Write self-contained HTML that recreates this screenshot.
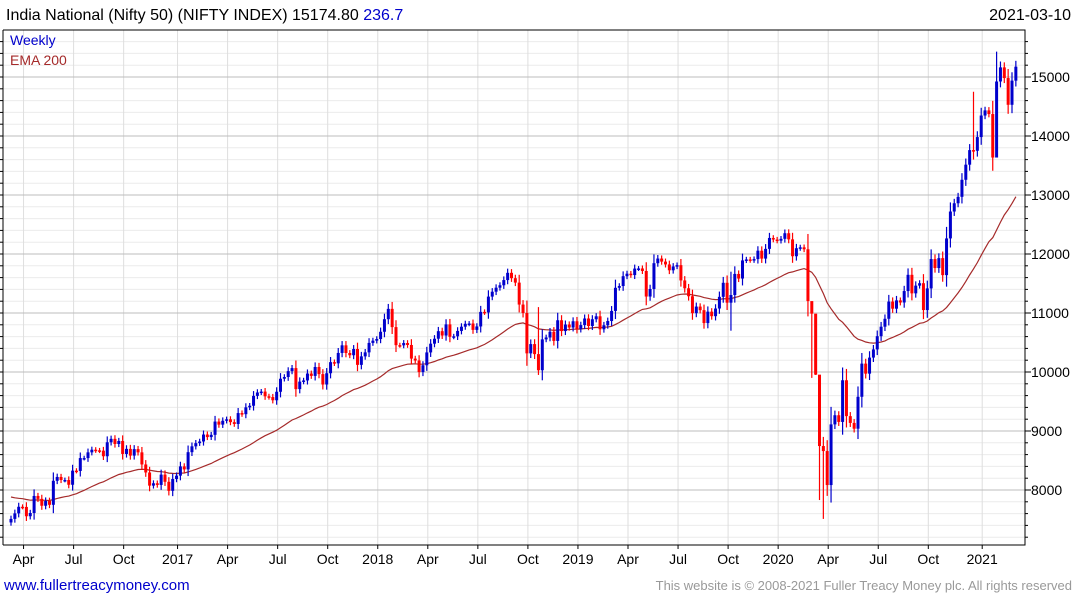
<!DOCTYPE html>
<html><head><meta charset="utf-8"><style>
body{margin:0;background:#fff;}
svg{display:block;font-family:"Liberation Sans",sans-serif;}
</style></head><body>
<svg id="chart" width="1075" height="600">
<rect x="0" y="0" width="1075" height="600" fill="#fff"/>
<g id="grid"></g><g id="ema"></g><g id="candles"></g><g id="axes"></g>
<text x="6" y="20" font-size="16" fill="#000">India National (Nifty 50) (NIFTY INDEX) 15174.80 <tspan fill="#0000cc">236.7</tspan></text>
<text x="1071" y="20" font-size="16" fill="#000" text-anchor="end">2021-03-10</text>
<text x="10" y="45" font-size="14" fill="#0000cc">Weekly</text>
<text x="10" y="65" font-size="14" fill="#a52a2a">EMA 200</text>
<text x="4" y="590" font-size="15" fill="#0000cc">www.fullertreacymoney.com</text>
<text x="1072" y="590" font-size="13" fill="#999" text-anchor="end">This website is © 2008-2021 Fuller Treacy Money plc. All rights reserved</text>
</svg>
<script>
const closes=[7510,7604,7716,7713,7555,7610,7899,7850,7733,7814,7749,8156,8221,8170,8170,8089,8328,8323,8541,8541,8638,8683,8672,8667,8572,8809,8867,8780,8831,8611,8697,8583,8693,8638,8433,8297,8074,8114,8086,8261,8139,7986,8186,
8243,8400,8349,8641,8740,8794,8822,8940,8897,8935,9160,9108,9174,9198,9150,9119,9304,9285,9401,9428,9595,9653,9668,9588,9575,9521,9665,9886,9915,10015,10066,9710,9837,9857,9974,9934,10085,9964,9788,9979,10167,10147,10323,10452,10322,10284,10390,10121,10265,10333,10493,10531,
10559,10682,10895,11070,10761,10455,10452,10491,10458,10227,10195,9999,10114,10332,10480,10564,10692,10618,10807,10597,10605,10696,10768,10817,10822,10714,10772,11019,11010,11278,11361,11429,11470,11558,11681,11590,11515,11143,11000,10316,10473,10303,10030,10553,10585,10682,10527,10877,10694,10805,10754,10860,
10727,10795,10907,10780,10894,10944,10724,10792,10864,11035,11427,11457,11624,11666,11643,11753,11755,11712,11279,11407,11844,11923,11871,11823,11724,11789,11811,11552,11419,11284,10997,11109,11048,10829,11023,10946,11076,11274,11512,11175,11305,11662,11584,11891,11908,11895,11914,12056,11922,12087,12272,12245,
12226,12257,12352,12248,11962,12098,12113,12080,11202,10989,9955,8745,8660,8084,9112,9267,9154,9860,9252,9137,9039,9580,10142,9972,10244,10383,10607,10768,10902,11194,11073,11214,11178,11372,11647,11333,11464,11505,11050,11417,11914,11762,11930,11642,12264,12720,12860,12969,13258,13514,13761,13749,13982,
14347,14434,14372,13635,14924,15163,14982,14529,14938,15175];
const wickExtremes={187:[11700,10700],209:[10200,9950],210:[9100,7830],211:[8900,7510],208:[11000,9900],137:[11100,9950],256:[15430,14900],250:[14750,13600]};
const yMajorTicks=[8000,9000,10000,11000,12000,13000,14000,15000];
const xTickLabels=["Apr","Jul","Oct","2017","Apr","Jul","Oct","2018","Apr","Jul","Oct","2019","Apr","Jul","Oct","2020","Apr","Jul","Oct","2021"];
const xTickWeeks=[3,16,29,43,56,69,82,95,108,121,134,147,160,173,186,199,212,225,238,252];
const emaSeed=7900, emaPeriod=40;

const NS="http://www.w3.org/2000/svg";
const L=3,R=1025,T=30,B=545;
function y(v){return 372-(v-10000)*0.059;}
function x(i){return 11+i*3.85;}
function mk(tag,attrs,parent){const e=document.createElementNS(NS,tag);for(const k in attrs)e.setAttribute(k,attrs[k]);parent.appendChild(e);return e;}
const grid=document.getElementById('grid'),axes=document.getElementById('axes'),cg=document.getElementById('candles'),eg=document.getElementById('ema');
for(let v=7200;v<=15800;v+=200){const yy=y(v);if(yy<T||yy>B)continue;
 if(v%1000!==0){const g=mk('line',{x1:L,x2:R,y1:yy,y2:yy,stroke:'#ebebeb','stroke-width':1},grid);
 
 }
 const t=mk('line',{x1:R,x2:R+(v%1000===0?6:3),y1:yy,y2:yy,stroke:'#000'},axes);
 
 
 const t2=mk('line',{x1:L-3,x2:L,y1:yy,y2:yy,stroke:'#000'},axes);
 
 }
xTickWeeks.forEach((w,k)=>{const xx=x(w)+1;
 const g=mk('line',{x1:xx,x2:xx,y1:T,y2:B,stroke:'#dedede'},grid);
 
 
 const t=mk('text',{x:xx,y:564,'font-size':14,'text-anchor':'middle',fill:'#000'},axes);t.textContent=xTickLabels[k];
 
 
 const tk=mk('line',{x1:xx,x2:xx,y1:B,y2:B+4,stroke:'#000'},axes);
 
 });
yMajorTicks.forEach(v=>{const yy=y(v);
 const g=mk('line',{x1:L,x2:R,y1:yy,y2:yy,stroke:'#bdbdbd'},grid);
 
 
 const t=mk('text',{x:1031,y:yy+5,'font-size':14,fill:'#000'},axes);t.textContent=v;
 
 });
const fr=mk('path',{d:`M${L} ${T}H${R}V${B}H${L}`,fill:'none',stroke:'#000'},axes);


const ll=mk('line',{x1:L,x2:L,y1:T,y2:B,stroke:'#000'},axes);


let e=emaSeed,a=2/(emaPeriod+1),pts=[];
closes.forEach((c,i)=>{e=e+a*(c-e);pts.push(x(i).toFixed(1)+','+y(e).toFixed(1));});
const ep=mk('polyline',{points:pts.join(' '),fill:'none',stroke:'#a52a2a','stroke-width':1.2},eg);


closes.forEach((c,i)=>{const o=i?closes[i-1]:c-60;const up=c>=o;const col=up?'#0000cc':'#ff0000';
 let hi=Math.max(o,c)+Math.abs(c-o)*0.25+40,lo=Math.min(o,c)-Math.abs(c-o)*0.25-40;
 if(wickExtremes[i]){hi=wickExtremes[i][0];lo=wickExtremes[i][1];}
 const g=mk('g',{},cg);
 
 
 mk('line',{x1:x(i),x2:x(i),y1:y(hi),y2:y(lo),stroke:col,'stroke-width':1.2},g);
 const top=y(Math.max(o,c)),h=Math.max(1.5,y(Math.min(o,c))-top);
 mk('rect',{x:x(i)-1.5,y:top,width:3,height:h,fill:col},g);});
</script>
</body></html>
